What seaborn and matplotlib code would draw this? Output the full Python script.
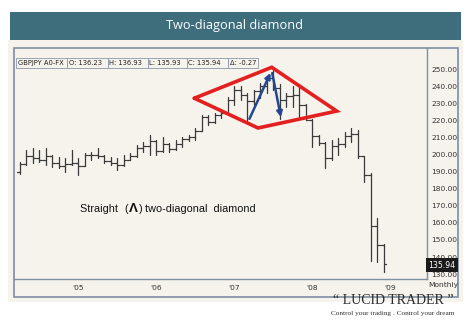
import numpy as np
import pandas as pd
import matplotlib
matplotlib.use("Agg")
import matplotlib.pyplot as plt
import seaborn as sns
from matplotlib.patches import Rectangle

# ---------------- data (monthly GBPJPY OHLC) ----------------
months = pd.period_range("2004-04", "2008-12", freq="M").strftime("%Y-%m").tolist()
opens = [190, 194.5, 199, 198, 197, 199, 195, 193, 194.5,
         195, 193.5, 199.5, 200, 199, 196, 195, 194, 197, 199, 204, 205,
         208, 202, 206, 203, 206, 209, 210, 214, 222, 219, 223, 224.5,
         232, 238, 235, 231, 237, 240, 245, 239, 232, 234, 235, 229,
         220, 211, 207, 198, 205, 206, 211, 212, 199, 188, 158, 147]
highs = [195.8, 202.6, 203.6, 202.6, 203.6, 199.7, 198.7, 197.7, 202.6,
         197.7, 200.7, 201.6, 204, 199.7, 198.7, 197.7, 199.7, 200.7, 205.6, 207.5, 211.4,
         208.5, 210.4, 206.5, 208.5, 210.4, 211.4, 215.3, 223.1, 223.1, 224.1, 226, 233.8,
         240, 240, 236, 238, 242, 246, 249.5, 241, 236, 240, 240, 229.5,
         220.5, 211.4, 207.5, 208.5, 209.6, 213, 215.5, 214.3, 199, 189, 163, 147.5]
lows = [188.6, 193.9, 194.8, 195.8, 193.9, 192.9, 191.9, 190, 193.9,
        188, 193, 196.8, 197.7, 194.8, 193.9, 191, 193.5, 196.5, 198.7, 201.6, 199.7,
        199.7, 201.6, 201.6, 202.5, 204.6, 208, 208.5, 213.5, 217.3, 218.5, 221.2, 224,
        229, 232, 219.2, 229, 233, 236, 237.7, 220.5, 228, 228, 222, 220,
        204.6, 205.6, 192, 196.8, 199.7, 204.4, 207.3, 198, 184, 138, 137, 131.5]
closes = [194.5, 199, 198, 197, 199, 195, 193, 194.5, 195,
          193.5, 199.5, 200, 199, 196, 195, 194, 197, 199, 204, 205, 208,
          202, 206, 203, 206, 209, 210, 214, 222, 219, 223, 224.5, 232,
          238, 235, 231, 237, 240, 245, 239, 232, 234, 235, 229, 220,
          211, 207, 198, 205, 206, 211, 212, 199, 188, 158, 147, 135.94]
year_labels = ["'05", "'06", "'07", "'08", "'09"]
price_ticks = [130, 140, 150, 160, 170, 180, 190, 200, 210, 220, 230, 240, 250]
info_fields = ["GBPJPY A0-FX", "O: 136.23", "H: 136.93", "L: 135.93", "C: 135.94", "\u0394: -0.27"]
last_price = 135.94

# diamond (index units, price)
diamond_x = [26.9, 38.8, 48.8, 36.7, 26.9]
diamond_y = [232.9, 251.0, 225.4, 215.5, 232.9]

W, H = 474, 328
fig = plt.figure(figsize=(W / 100, H / 100), dpi=100)
fig.patch.set_facecolor("white")

def fx(x):
    return x / W

def fy(y):
    return 1 - y / H

# paper background
fig.patches.append(Rectangle((fx(8), fy(302)), fx(463) - fx(8), fy(40) - fy(302),
                             transform=fig.transFigure, facecolor="#f5f3ec", edgecolor="none", zorder=-5))
# header bar
fig.patches.append(Rectangle((fx(10), fy(39.5)), fx(461) - fx(10), fy(11.5) - fy(39.5),
                             transform=fig.transFigure, facecolor="#3e6d7b", edgecolor="none", zorder=1))
fig.text(fx(235), fy(25.5), "Two-diagonal diamond", color="white", fontsize=9.2,
         family="Open Sans", ha="center", va="center")
# chart frame
fig.patches.append(Rectangle((fx(13.5), fy(297)), fx(458) - fx(13.5), fy(48) - fy(297),
                             transform=fig.transFigure, facecolor="none", edgecolor="#7f8ea3",
                             linewidth=1.2, zorder=2))

sns.set_style("white")
ax = fig.add_axes([fx(14), fy(279), fx(427) - fx(14), fy(48) - fy(279)])
ax.set_facecolor("none")
ax.set_zorder(1)

idx = np.arange(len(months))
hl = pd.DataFrame({"pos": np.repeat(idx, 2), "price": np.ravel(np.column_stack([lows, highs])),
                   "u": np.repeat(idx, 2)})
op = pd.DataFrame({"pos": np.ravel(np.column_stack([idx - 0.42, idx])), "price": np.repeat(opens, 2),
                   "u": np.repeat(idx, 2)})
cl = pd.DataFrame({"pos": np.ravel(np.column_stack([idx, idx + 0.42])), "price": np.repeat(closes, 2),
                   "u": np.repeat(idx, 2)})
bar_kw = dict(estimator=None, sort=False, color="#3a3a3a", linewidth=0.9, legend=False, ax=ax)
sns.lineplot(data=hl, x="pos", y="price", units="u", **bar_kw)
sns.lineplot(data=op, x="pos", y="price", units="u", **bar_kw)
sns.lineplot(data=cl, x="pos", y="price", units="u", **bar_kw)

ax.set_xlim((14 - 19.5) / 6.5, (427 - 19.5) / 6.5)
ax.set_ylim(250 - (279 - 69) / 1.71, 250 + (69 - 48) / 1.71)

# diamond and arrows
ax.plot(diamond_x, diamond_y, color="#e3201f", linewidth=2.6, solid_joinstyle="miter", zorder=5)
ax.annotate("", xy=(38.8, 249.2), xytext=(35.2, 219.4),
            arrowprops=dict(arrowstyle="-|>", color="#24478f", lw=1.8, mutation_scale=8), zorder=6)
ax.annotate("", xy=(40.3, 220.2), xytext=(38.8, 249.2),
            arrowprops=dict(arrowstyle="-|>", color="#24478f", lw=1.8, mutation_scale=8), zorder=6)

# axes styling
for s in ["top", "left"]:
    ax.spines[s].set_visible(False)
for s in ["right", "bottom"]:
    ax.spines[s].set_color("#7f8ea3")
    ax.spines[s].set_linewidth(1.0)
ax.set_xlabel("")
ax.set_ylabel("")
ax.yaxis.tick_right()
ax.set_yticks(price_ticks)
ax.set_yticklabels([f"{v:.2f}" for v in price_ticks], fontsize=5.4, color="#333333", family="DejaVu Sans")
ax.tick_params(axis="y", length=0, pad=3)
first_jan = months.index("2005-01")
ax.set_xticks([first_jan + 12 * k for k in range(len(year_labels))])
ax.set_xticklabels(year_labels, fontsize=5.4, color="#333333")
ax.tick_params(axis="x", length=0, pad=4)

# last price box
fig.text(fx(442), fy(265), f"{last_price:.2f}", color="white", fontsize=5.6, ha="center", va="center",
         zorder=5, bbox=dict(boxstyle="square,pad=0.3", facecolor="#1a1a1a", edgecolor="none"))
fig.text(fx(443), fy(285), "Monthly", color="#333333", fontsize=5.4, ha="center", va="center")

# info header row
edges = [16, 67, 107.5, 147.5, 186.5, 228, 258]
for i, t in enumerate(info_fields):
    fig.patches.append(Rectangle((fx(edges[i]), fy(68)), fx(edges[i + 1]) - fx(edges[i]), fy(57.5) - fy(68),
                                 transform=fig.transFigure, facecolor="#f5f3ec", edgecolor="#8c98a8",
                                 linewidth=0.6, zorder=3))
    fig.text(fx(edges[i] + 1.8), fy(63), t, fontsize=4.9, color="#222222", ha="left", va="center", zorder=4)

# annotation text, placed piece by piece
renderer = fig.canvas.get_renderer()
pieces = [("Straight  ", 7.8, "normal", 0), ("(", 7.8, "normal", 0), ("\u039b", 9.6, "bold", 0.8),
          (")", 7.8, "normal", 0), (" two-diagonal  diamond", 7.8, "normal", 0)]
cur = 80.5
for txt, size, weight, gap in pieces:
    t = fig.text(fx(cur + gap), fy(209.5), txt, fontsize=size, weight=weight, family="Liberation Sans",
                 color="#111111", ha="left", va="center")
    bb = t.get_window_extent(renderer=renderer)
    cur = cur + gap + bb.width + gap

# brand
fig.text(fx(393.5), fy(300), "\u201c LUCID TRADER \u201d", fontsize=10, family="Liberation Serif",
         color="#2b2b2b", ha="center", va="center")
fig.text(fx(393), fy(314), "Control your trading . Control your dream", fontsize=5.2,
         family="Liberation Serif", color="#333333", ha="center", va="center")

fig.savefig("out.png", dpi=100)
